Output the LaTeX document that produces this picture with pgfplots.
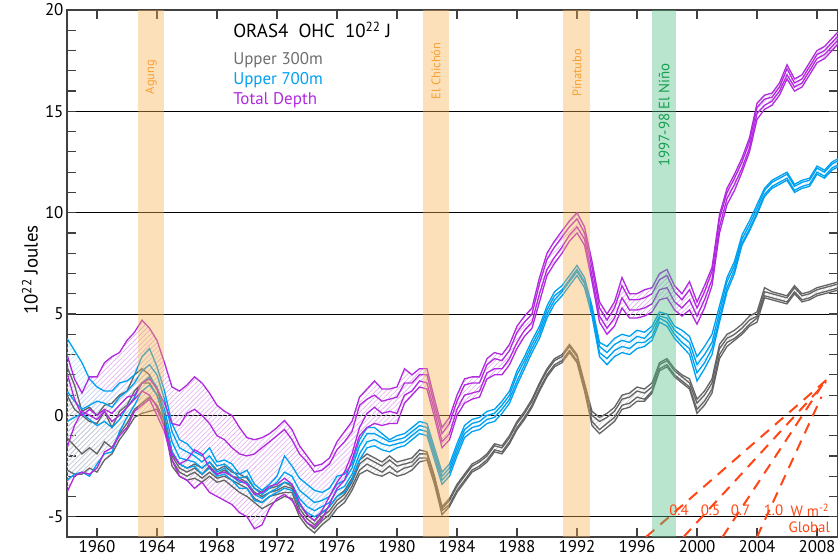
\documentclass[border=0pt]{standalone}
\usepackage{fontspec}
\setmainfont{PT Sans}
\usepackage{pgfplots}
\pgfplotsset{compat=1.18}
\usepackage{pgfplotstable}
\usepgfplotslibrary{fillbetween}
\usetikzlibrary{patterns.meta}

\definecolor{gcol}{RGB}{100,100,100}
\definecolor{bcol}{RGB}{0,160,240}
\definecolor{pcol}{RGB}{178,42,222}
\definecolor{volc}{RGB}{247,177,80}
\definecolor{nino}{RGB}{80,187,130}
\definecolor{volctext}{RGB}{250,160,50}
\definecolor{ninotext}{RGB}{20,160,80}
\definecolor{redl}{RGB}{255,70,20}
\definecolor{gtext}{RGB}{110,110,110}

\pgfplotstableread{
t g1 g2 g3 g4 b1 b2 b3 b4 p1 p2 p3 p4
1958.0  2.4 1.0 -1.1 -2.7   3.8 1.2 -0.3 -3.2   3.0 2.1 -1.6 -3.8
1958.5  1.5 0.3 -1.5 -2.9   3.2 0.7 -0.1 -2.9   1.8 0.8 -0.5 -3.0
1959.0  0.2 0.0 -1.9 -2.9   2.6 0.3 0.1 -2.8    1.1 0.0 0.2 -2.8
1959.5  0.4 -0.3 -1.6 -2.6  1.8 0.5 -0.2 -3.0   1.9 0.3 0.0 -2.9
1960.0  0.0 -0.4 -1.9 -2.8  1.4 0.7 -0.5 -2.4   1.9 0.0 -0.2 -2.6
1960.5  0.5 0.2 -1.3 -2.2   1.2 0.6 -0.3 -1.9   2.6 0.3 0.2 -1.8
1961.0  0.6 -0.6 -1.6 -1.9  1.2 0.4 -0.6 -1.8   2.9 0.1 -0.3 -1.6
1961.5  1.0 0.2 -0.9 -1.2   1.6 0.9 -0.2 -0.8   3.1 0.5 0.0 -1.0
1962.0  1.2 0.5 -0.4 -0.7   1.7 1.2 0.4 -0.1    3.7 0.9 0.4 -0.6
1962.5  2.0 1.2 0.3 -0.1    2.0 1.6 0.9 0.5     4.1 1.0 0.8 0.2
1963.0  2.3 1.6 0.6 0.1     2.9 2.2 1.6 1.2     4.7 1.6 1.2 0.5
1963.5  2.0 1.6 0.9 0.2     3.3 2.5 1.9 1.5     4.3 1.8 1.0 0.8
1964.0  1.3 1.0 0.5 0.3     2.4 2.0 1.4 1.0     3.7 1.3 0.4 0.0
1964.5  0.0 -0.2 -0.3 -0.5  1.2 0.8 0.3 -0.1    2.6 0.6 -0.6 -0.8
1965.0  -1.8 -2.0 -2.2 -2.5 -0.4 -0.8 -1.3 -1.8 1.4 -0.4 -1.9 -2.2
1965.5  -2.4 -2.6 -2.8 -3.0 -1.2 -1.6 -2.1 -2.4 1.2 -0.5 -2.4 -3.0
1966.0  -2.6 -2.8 -3.0 -3.2 -1.4 -1.8 -2.2 -2.6 1.5 0.1 -2.2 -3.2
1966.5  -2.4 -2.6 -2.8 -3.1 -1.8 -2.0 -2.3 -2.5 1.9 0.3 -1.7 -3.6
1967.0  -2.6 -2.9 -3.1 -3.3 -2.0 -2.3 -2.6 -2.9 1.6 0.0 -1.9 -3.3
1967.5  -2.3 -2.5 -2.8 -3.0 -1.6 -2.0 -2.3 -2.6 1.1 -0.4 -2.6 -3.8
1968.0  -2.7 -2.9 -3.1 -3.3 -2.3 -2.5 -2.8 -3.0 0.5 -1.0 -2.9 -4.0
1968.5  -2.5 -2.7 -3.0 -3.2 -2.2 -2.4 -2.6 -2.9 0.2 -1.2 -2.8 -4.2
1969.0  -2.8 -3.0 -3.2 -3.5 -2.4 -2.7 -3.0 -3.2 0.0 -1.6 -3.0 -4.4
1969.5  -2.9 -3.1 -3.4 -3.8 -2.9 -3.1 -3.3 -3.6 -0.6 -1.9 -3.2 -4.8
1970.0  -3.1 -3.3 -3.6 -4.0 -2.7 -3.0 -3.3 -3.6 -1.1 -2.0 -3.4 -5.0
1970.5  -3.6 -3.8 -4.1 -4.3 -3.4 -3.6 -3.9 -4.2 -1.2 -1.9 -3.9 -5.6
1971.0  -3.8 -4.0 -4.3 -4.6 -3.7 -3.9 -4.1 -4.3 -1.1 -1.6 -3.8 -5.4
1971.5  -3.6 -3.8 -4.0 -4.4 -3.4 -3.6 -3.8 -4.0 -0.9 -1.3 -3.5 -4.6
1972.0  -3.5 -3.7 -3.9 -4.2 -3.0 -3.3 -3.6 -3.8 -0.6 -1.0 -3.4 -4.1
1972.5  -3.3 -3.5 -3.8 -4.0 -2.0 -2.8 -3.3 -3.6 -0.25 -0.7 -3.1 -3.9
1973.0  -3.5 -3.6 -3.8 -4.1 -2.5 -3.0 -3.4 -3.7 -0.7 -1.2 -3.4 -4.2
1973.5  -4.4 -4.6 -4.8 -5.0 -3.1 -3.7 -4.1 -4.4 -1.5 -1.9 -4.3 -4.8
1974.0  -4.9 -5.1 -5.3 -5.5 -3.4 -4.0 -4.5 -4.8 -2.0 -2.3 -4.9 -5.3
1974.5  -5.2 -5.4 -5.6 -5.8 -3.7 -4.3 -4.7 -5.0 -2.5 -2.8 -5.2 -5.5
1975.0  -4.8 -5.0 -5.2 -5.4 -3.8 -4.2 -4.5 -4.8 -2.4 -2.7 -4.7 -5.1
1975.5  -4.5 -4.7 -4.9 -5.1 -3.6 -4.0 -4.3 -4.5 -2.1 -2.4 -4.0 -4.4
1976.0  -4.0 -4.2 -4.4 -4.6 -3.0 -3.4 -3.7 -4.0 -1.3 -1.7 -3.3 -3.6
1976.5  -3.7 -3.9 -4.1 -4.3 -2.9 -3.2 -3.5 -3.8 -0.8 -1.3 -2.8 -3.2
1977.0  -3.1 -3.3 -3.5 -3.7 -2.4 -2.6 -2.9 -3.2 -0.3 -0.8 -1.9 -2.2
1977.5  -2.2 -2.4 -2.7 -2.9 -1.2 -1.5 -1.9 -2.2 0.9 0.5 -0.6 -1.0
1978.0  -1.9 -2.1 -2.4 -2.7 -0.6 -0.9 -1.3 -1.6 1.3 0.8 0.1 -0.6
1978.5  -2.1 -2.3 -2.6 -2.9 -0.6 -0.9 -1.2 -1.5 1.7 1.0 0.4 -0.4
1979.0  -2.3 -2.5 -2.8 -3.0 -0.9 -1.1 -1.4 -1.7 1.3 0.7 0.1 -0.5
1979.5  -2.0 -2.2 -2.5 -2.8 -1.2 -1.3 -1.5 -1.8 1.3 0.8 0.2 -0.4
1980.0  -2.3 -2.5 -2.8 -3.0 -1.0 -1.2 -1.4 -1.6 1.4 0.9 0.1 -0.4
1980.5  -2.2 -2.4 -2.6 -2.9 -0.9 -1.1 -1.3 -1.5 2.3 1.6 1.0 0.6
1981.0  -2.1 -2.3 -2.5 -2.7 -0.6 -0.8 -1.0 -1.2 2.0 1.6 1.2 1.0
1981.5  -1.7 -1.9 -2.1 -2.3 -0.3 -0.5 -0.7 -0.9 2.3 2.0 1.7 1.4
1982.0  -1.8 -1.9 -2.1 -2.2 -0.4 -0.6 -0.8 -1.0 2.3 2.0 1.6 1.3
1982.5  -3.0 -3.1 -3.3 -3.4 -1.6 -1.8 -2.0 -2.2 0.8 0.5 0.2 -0.1
1983.0  -4.5 -4.6 -4.7 -4.9 -2.8 -3.0 -3.2 -3.4 -0.6 -0.9 -1.3 -1.6
1983.5  -4.1 -4.2 -4.4 -4.5 -2.4 -2.6 -2.8 -3.0 -0.1 -0.4 -0.9 -1.2
1984.0  -3.4 -3.5 -3.7 -3.8 -1.4 -1.6 -1.8 -2.0 1.0 0.7 0.3 0.0
1984.5  -2.9 -3.0 -3.2 -3.3 -0.5 -0.7 -0.9 -1.1 1.8 1.5 1.0 0.6
1985.0  -2.4 -2.5 -2.7 -2.8 -0.2 -0.4 -0.6 -0.8 1.9 1.6 1.1 0.8
1985.5  -2.2 -2.3 -2.5 -2.6 -0.1 -0.3 -0.5 -0.7 1.9 1.6 1.2 0.9
1986.0  -1.9 -2.0 -2.2 -2.3 0.2 0.0 -0.2 -0.4 2.8 2.5 2.1 1.8
1986.5  -1.4 -1.5 -1.7 -1.8 0.3 0.1 -0.1 -0.3 3.1 2.8 2.3 2.0
1987.0  -1.5 -1.6 -1.8 -1.9 0.7 0.5 0.3 0.1 3.0 2.7 2.3 2.0
1987.5  -1.0 -1.1 -1.3 -1.4 1.2 1.0 0.8 0.6 3.5 3.2 2.8 2.5
1988.0  -0.3 -0.4 -0.6 -0.7 2.2 2.0 1.7 1.5 4.4 4.1 3.6 3.3
1988.5  0.2 0.1 -0.1 -0.2 2.9 2.7 2.5 2.3 4.9 4.6 4.2 3.9
1989.0  0.8 0.7 0.5 0.4 3.7 3.5 3.3 3.1 5.3 5.0 4.6 4.3
1989.5  1.6 1.5 1.3 1.2 4.4 4.2 4.0 3.8 6.8 6.5 6.0 5.6
1990.0  2.3 2.2 2.0 1.9 5.4 5.2 5.0 4.8 8.0 7.7 7.2 6.9
1990.5  2.8 2.7 2.5 2.4 6.1 5.9 5.7 5.5 8.6 8.3 7.8 7.5
1991.0  3.0 2.9 2.7 2.6 6.4 6.2 6.1 5.9 9.1 8.8 8.3 8.0
1991.5  3.5 3.4 3.2 3.1 6.9 6.7 6.6 6.4 9.6 9.3 8.9 8.6
1992.0  3.0 2.9 2.7 2.6 7.4 7.2 7.1 6.9 10.0 9.7 9.3 9.0
1992.5  1.6 1.5 1.3 1.2 6.8 6.6 6.5 6.3 9.3 9.0 8.7 8.4
1993.0  0.2 0.0 -0.3 -0.5 5.4 5.2 5.1 4.9 7.6 7.3 6.9 6.6
1993.5  -0.1 -0.3 -0.7 -0.9 3.6 3.4 3.1 2.9 5.6 5.3 4.9 4.6
1994.0  0.1 -0.1 -0.4 -0.6 3.4 3.1 2.8 2.5 5.0 4.7 4.3 4.0
1994.5  0.4 0.2 -0.1 -0.3 3.8 3.5 3.2 2.9 5.6 5.3 4.8 4.4
1995.0  1.0 0.8 0.5 0.3 4.0 3.7 3.4 3.1 6.8 6.4 5.8 5.3
1995.5  1.1 0.9 0.6 0.4 3.9 3.6 3.3 3.0 6.0 5.7 5.2 4.8
1996.0  1.4 1.2 0.9 0.7 4.2 3.9 3.6 3.3 6.0 5.7 5.2 4.8
1996.5  1.3 1.1 0.8 0.7 4.1 3.8 3.6 3.4 6.2 5.8 5.3 4.9
1997.0  1.6 1.4 1.2 1.1 4.4 4.2 3.9 3.7 6.3 6.0 5.5 5.1
1997.5  2.6 2.5 2.3 2.2 5.1 4.9 4.8 4.6 7.0 6.7 6.2 5.7
1998.0  2.8 2.7 2.5 2.4 5.0 4.8 4.6 4.4 7.2 6.9 6.3 5.8
1998.5  2.3 2.2 2.0 1.9 4.4 4.2 4.0 3.8 6.4 6.1 5.6 5.2
1999.0  2.0 1.9 1.7 1.6 4.2 3.9 3.6 3.4 6.0 5.7 5.3 4.9
1999.5  1.8 1.6 1.4 1.3 3.9 3.6 3.3 3.0 6.6 6.2 5.7 5.2
2000.0  0.8 0.6 0.3 0.1 2.9 2.5 2.1 1.7 5.6 5.3 4.9 4.5
2000.5  1.2 1.0 0.7 0.5 3.4 3.0 2.6 2.3 6.4 6.1 5.7 5.3
2001.0  1.8 1.6 1.3 1.1 4.0 3.6 3.3 3.0 7.3 7.1 6.7 6.4
2001.5  3.5 3.3 3.0 2.8 5.4 5.1 4.8 4.6 9.9 9.7 9.3 9.0
2002.0  4.0 3.8 3.6 3.4 6.8 6.6 6.3 6.1 11.2 11.0 10.7 10.4
2002.5  4.2 4.0 3.8 3.7 7.6 7.4 7.2 7.0 11.9 11.7 11.4 11.1
2003.0  4.5 4.3 4.1 4.0 8.9 8.7 8.5 8.4 12.7 12.5 12.2 12.0
2003.5  4.9 4.7 4.5 4.4 9.6 9.4 9.2 9.1 13.7 13.5 13.2 13.0
2004.0  5.1 4.9 4.8 4.6 10.4 10.2 10.0 9.9 15.4 15.2 14.9 14.6
2004.5  6.3 6.1 5.9 5.8 11.2 11.1 10.9 10.8 15.8 15.6 15.3 15.1
2005.0  6.1 6.0 5.8 5.7 11.6 11.5 11.3 11.2 15.9 15.7 15.5 15.3
2005.5  6.0 5.9 5.7 5.6 11.8 11.7 11.5 11.4 16.4 16.2 16.0 15.8
2006.0  5.9 5.8 5.6 5.5 12.0 11.9 11.7 11.6 17.3 17.1 16.8 16.6
2006.5  6.4 6.3 6.1 6.0 11.4 11.3 11.1 11.0 16.6 16.4 16.2 16.0
2007.0  6.0 5.9 5.7 5.6 11.6 11.5 11.3 11.2 16.8 16.6 16.4 16.2
2007.5  6.1 6.0 5.8 5.7 11.7 11.6 11.4 11.3 17.4 17.2 17.0 16.8
2008.0  6.3 6.2 6.0 5.9 12.3 12.2 12.0 11.9 18.0 17.8 17.6 17.4
2008.5  6.4 6.3 6.1 6.0 12.1 12.0 11.8 11.7 18.2 18.0 17.8 17.6
2009.0  6.5 6.4 6.2 6.1 12.5 12.4 12.2 12.1 18.6 18.4 18.2 18.0
2009.5  6.6 6.5 6.3 6.2 12.7 12.6 12.4 12.3 19.0 18.8 18.6 18.4
}\ohc

\begin{document}
\begin{tikzpicture}
\begin{axis}[
  at={(0,0)}, anchor=south west,
  scale only axis, width=771bp, height=527bp,
  xmin=1958, xmax=2009.4, ymin=-6, ymax=20,
  xtick={1960,1964,...,2008},
  ytick={-5,0,...,20},
  minor y tick num=4,
  tick align=inside,
  major tick length=9bp, minor tick length=9bp,
  ymajorgrids, grid style={black, line width=0.9bp},
  axis line style={draw=black!75, line width=1.2bp},
  every tick/.style={black!75, line width=1.2bp},
  ticklabel style={font=\fontsize{17}{19}\selectfont},
  /pgf/number format/assume math mode=true,
  /pgf/number format/1000 sep={},
  clip=true,
]
% invisible named envelopes
\addplot[draw=none, forget plot, name path=PA] table[x=t,y=p1]{\ohc};
\addplot[draw=none, forget plot, name path=PB] table[x=t,y=p4]{\ohc};
\addplot[draw=none, forget plot, name path=BA] table[x=t,y=b1]{\ohc};
\addplot[draw=none, forget plot, name path=BB] table[x=t,y=b4]{\ohc};
\addplot[draw=none, forget plot, name path=GA] table[x=t,y=g1]{\ohc};
\addplot[draw=none, forget plot, name path=GB] table[x=t,y=g4]{\ohc};
\addplot[draw=none, pattern={Lines[angle=45,distance=3.5bp,line width=0.6bp]}, pattern color=pcol!40] fill between[of=PA and PB];
\addplot[draw=none, pattern={Lines[angle=45,distance=3.5bp,line width=0.6bp]}, pattern color=bcol!25] fill between[of=BA and BB];
\addplot[draw=none, pattern={Lines[angle=45,distance=3.5bp,line width=0.6bp]}, pattern color=gcol!30] fill between[of=GA and GB];
% gray members
\addplot[gcol, line width=1.3bp] table[x=t,y=g1]{\ohc};
\addplot[gcol, line width=1.3bp] table[x=t,y=g2]{\ohc};
\addplot[gcol, line width=1.3bp] table[x=t,y=g3]{\ohc};
\addplot[gcol, line width=1.3bp] table[x=t,y=g4]{\ohc};
% blue members
\addplot[bcol, line width=1.3bp] table[x=t,y=b1]{\ohc};
\addplot[bcol, line width=1.3bp] table[x=t,y=b2]{\ohc};
\addplot[bcol, line width=1.3bp] table[x=t,y=b3]{\ohc};
\addplot[bcol, line width=1.3bp] table[x=t,y=b4]{\ohc};
% purple members
\addplot[pcol, line width=1.3bp] table[x=t,y=p1]{\ohc};
\addplot[pcol, line width=1.3bp] table[x=t,y=p2]{\ohc};
\addplot[pcol, line width=1.3bp] table[x=t,y=p3]{\ohc};
\addplot[pcol, line width=1.3bp] table[x=t,y=p4]{\ohc};
% heating-rate reference lines
\addplot[redl, line width=2bp, dash pattern=on 11bp off 8bp] coordinates {(1996.6,-6) (2008.9,1.92)};
\addplot[redl, line width=2bp, dash pattern=on 11bp off 8bp] coordinates {(1999.1,-6) (2008.6,1.65)};
\addplot[redl, line width=2bp, dash pattern=on 11bp off 8bp] coordinates {(2001.7,-6) (2008.4,1.55)};
\addplot[redl, line width=2bp, dash pattern=on 11bp off 8bp] coordinates {(2004.0,-6) (2008.3,0.92)};
% event bands
\fill[volc, opacity=0.4] (axis cs:1962.73,-6) rectangle (axis cs:1964.47,20);
\fill[volc, opacity=0.4] (axis cs:1981.73,-6) rectangle (axis cs:1983.47,20);
\fill[volc, opacity=0.4] (axis cs:1991.07,-6) rectangle (axis cs:1992.87,20);
\fill[nino, opacity=0.4] (axis cs:1997.0,-6) rectangle (axis cs:1998.6,20);
\node[rotate=90, text=volctext, font=\fontsize{12.5}{14}\selectfont] at (axis cs:1963.6,16.69) {Agung};
\node[rotate=90, text=volctext, font=\fontsize{12.5}{14}\selectfont] at (axis cs:1982.6,16.99) {El Chichón};
\node[rotate=90, text=volctext, font=\fontsize{12.5}{14}\selectfont] at (axis cs:1992.0,16.89) {Pinatubo};
\node[rotate=90, text=ninotext, font=\fontsize{15}{17}\selectfont] at (axis cs:1997.8,14.82) {1997-98 El Niño};
% title and legend
\node[anchor=base west, inner sep=0, font=\fontsize{19}{22}\selectfont] at (axis cs:1969.07,18.62) {ORAS4\ \ OHC\ \ 10\textsuperscript{22} J};
\node[anchor=base west, inner sep=0, text=gtext, font=\fontsize{17}{19}\selectfont] at (axis cs:1969.07,17.29) {Upper 300m};
\node[anchor=base west, inner sep=0, text=bcol, font=\fontsize{17}{19}\selectfont] at (axis cs:1969.07,16.30) {Upper 700m};
\node[anchor=base west, inner sep=0, text=pcol, font=\fontsize{17}{19}\selectfont] at (axis cs:1969.07,15.36) {Total Depth};
% rate labels
\node[text=redl, font=\fontsize{15}{17}\selectfont] at (axis cs:1998.8,-4.67) {0.4};
\node[text=redl, font=\fontsize{15}{17}\selectfont] at (axis cs:2000.9,-4.67) {0.5};
\node[text=redl, font=\fontsize{15}{17}\selectfont] at (axis cs:2002.9,-4.67) {0.7};
\node[text=redl, font=\fontsize{15}{17}\selectfont] at (axis cs:2005.1,-4.67) {1.0};
\node[anchor=west, text=redl, font=\fontsize{15}{17}\selectfont] at (axis cs:2006.0,-4.67) {W m\textsuperscript{-2}};
\node[anchor=east, text=redl, font=\fontsize{15}{17}\selectfont] at (axis cs:2009.1,-5.5) {Global};
\end{axis}
\node[rotate=90, font=\fontsize{19}{21}\selectfont] at (-37bp,267bp) {10\textsuperscript{22} Joules};
\pgfresetboundingbox
\path[use as bounding box] (-67bp,-22bp) rectangle (771bp,537bp);
\end{tikzpicture}
\end{document}
